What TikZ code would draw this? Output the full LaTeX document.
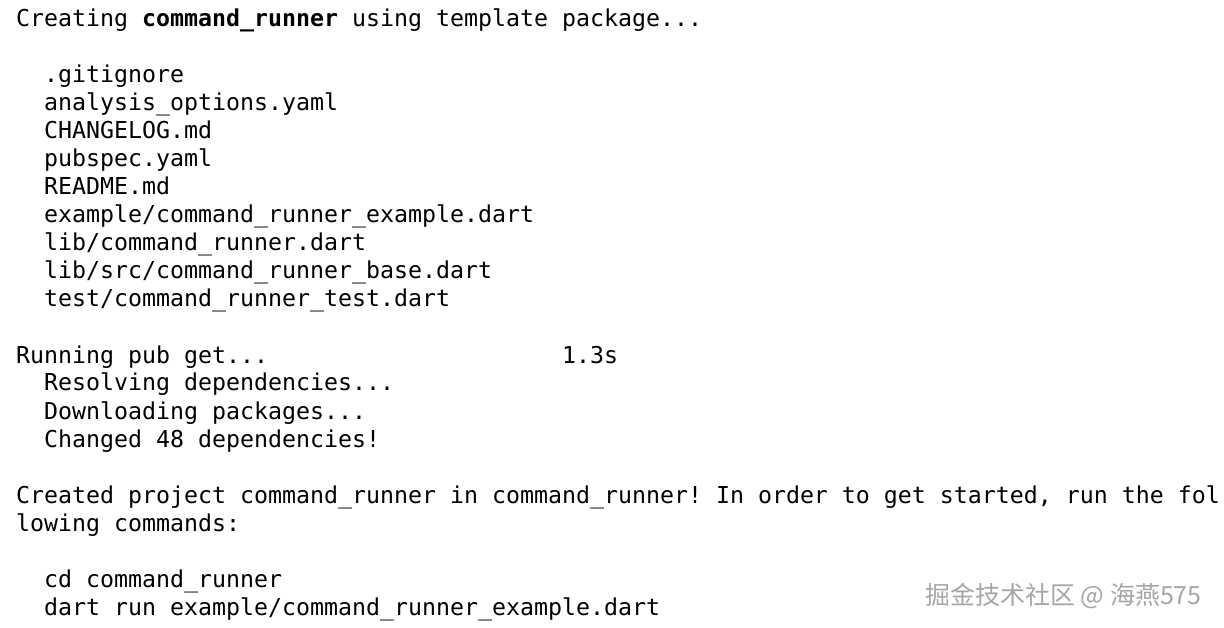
\documentclass[tikz,border=0pt]{standalone}
\usepackage{fontspec}
\setmonofont{DejaVu Sans Mono}
\newfontfamily\cjk{Noto Sans CJK SC}
\begin{document}
\begin{tikzpicture}[x=1pt,y=1pt,
  ln/.style={anchor=base west,inner sep=0pt,font=\ttfamily\fontsize{23.25}{28}\selectfont}]
\useasboundingbox[fill=white] (0,0) rectangle (1224,-628);
\def\Y#1{-27-28*#1}
\node[ln] (l0) at (16,{\Y{0}}) {Creating \textbf{command\_runner} using template package...};
\node[ln] (l2) at (44,{\Y{2}}) {.gitignore};
\node[ln] (l3) at (44,{\Y{3}}) {analysis\_options.yaml};
\node[ln] (l4) at (44,{\Y{4}}) {CHANGELOG.md};
\node[ln] (l5) at (44,{\Y{5}}) {pubspec.yaml};
\node[ln] (l6) at (44,{\Y{6}}) {README.md};
\node[ln] (l7) at (44,{\Y{7}}) {example/command\_runner\_example.dart};
\node[ln] (l8) at (44,{\Y{8}}) {lib/command\_runner.dart};
\node[ln] (l9) at (44,{\Y{9}}) {lib/src/command\_runner\_base.dart};
\node[ln] (l10) at (44,{\Y{10}}) {test/command\_runner\_test.dart};
\node[ln] (l12) at (16,{\Y{12}}) {Running pub get...};
\node[ln] (t12) at (562,{\Y{12}}) {1.3s};
\node[ln] (l13) at (44,{\Y{13}}) {Resolving dependencies...};
\node[ln] (l14) at (44,{\Y{14}}) {Downloading packages...};
\node[ln] (l15) at (44,{\Y{15}}) {Changed 48 dependencies!};
\node[ln] (l17) at (16,{\Y{17}}) {Created project command\_runner in command\_runner! In order to get started, run the fol};
\node[ln] (l18) at (16,{\Y{18}}) {lowing commands:};
\node[ln] (l20) at (44,{\Y{20}}) {cd command\_runner};
\node[ln] (l21) at (44,{\Y{21}}) {dart run example/command\_runner\_example.dart};
\node[anchor=base west,inner sep=0pt,font=\cjk\fontsize{25}{27}\selectfont,text=black!35] (wm) at (925,-604) {掘金技术社区 @ 海燕575};
\end{tikzpicture}
\end{document}
